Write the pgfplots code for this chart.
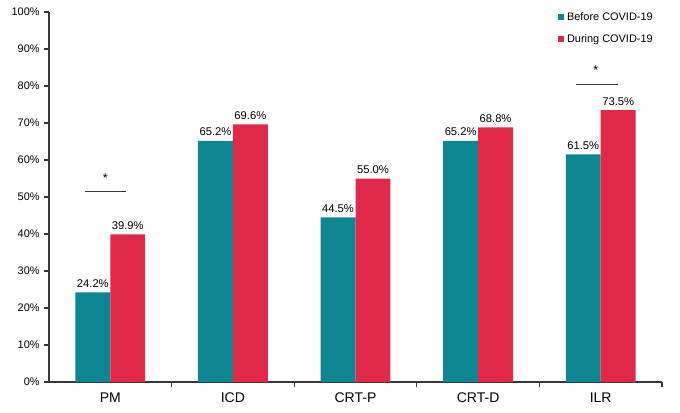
\documentclass[border=0pt]{standalone}
\usepackage{pgfplots}
\pgfplotsset{compat=1.18}
\usepackage{fontspec}
\setmainfont{Liberation Sans}
\definecolor{tealc}{RGB}{14,134,145}
\definecolor{redc}{RGB}{224,40,72}
\definecolor{axc}{RGB}{55,55,55}
\begin{document}
\begin{tikzpicture}[x=1pt,y=1pt]
\useasboundingbox (-36.75,-22.5) rectangle (473.25,286.5);
\begin{axis}[
  at={(0,0)}, anchor=south west,
  scale only axis, width=459.75pt, height=277.5pt,
  xmin=-0.5, xmax=4.5, ymin=0, ymax=100,
  axis x line*=bottom, axis y line*=left,
  axis line style={axc, line width=0.8pt},
  xtick={0,1,2,3,4},
  xticklabels={PM,ICD,CRT-P,CRT-D,ILR},
  major x tick style={draw=none},
  minor xtick={0.5,1.5,2.5,3.5,4.5},
  minor x tick style={axc, line width=0.8pt},
  minor tick length=4pt,
  x tick label style={font=\fontsize{10.5}{12}\selectfont, yshift=-1pt},
  ytick={0,10,...,100},
  yticklabel={\pgfmathprintnumber{\tick}\%},
  y tick label style={font=\fontsize{8.2}{10}\selectfont},
  /pgf/number format/assume math mode=true,
  ytick style={axc, line width=0.8pt},
  tick align=outside, major tick length=3.5pt,
  ybar, bar width=0.285,
  nodes near coords={\pgfmathprintnumber[fixed,fixed zerofill,precision=1]{\pgfplotspointmeta}\%},
  every node near coord/.append style={font=\fontsize{8.4}{10}\selectfont, black, yshift=0pt},
  legend style={draw=none, fill=none, at={(0.994,1.014)}, anchor=north east,
    font=\fontsize{8.2}{10}\selectfont, row sep=5pt, inner sep=2pt},
  legend cell align=left,
  legend image code/.code={\fill[#1] (0pt,-2.3pt) rectangle (4.6pt,2.3pt);},
  clip=false,
]
\addplot[fill=tealc, draw=none, bar shift=-0.1425] coordinates {(0,24.2) (1,65.2) (2,44.5) (3,65.2) (4,61.5)};
\addlegendentry{Before COVID-19}
\addplot[fill=redc, draw=none, bar shift=0.1425] coordinates {(0,39.9) (1,69.6) (2,55.0) (3,68.8) (4,73.5)};
\addlegendentry{During COVID-19}
\draw[axc, line width=0.8pt] (axis cs:-0.21,51.4) -- (axis cs:0.13,51.4);
\node[font=\fontsize{9.5}{10}\selectfont] at (axis cs:-0.04,55.2) {*};
\draw[axc, line width=0.8pt] (axis cs:3.8,80.5) -- (axis cs:4.14,80.5);
\node[font=\fontsize{9.5}{10}\selectfont] at (axis cs:3.96,84.3) {*};
\end{axis}
\end{tikzpicture}
\end{document}
